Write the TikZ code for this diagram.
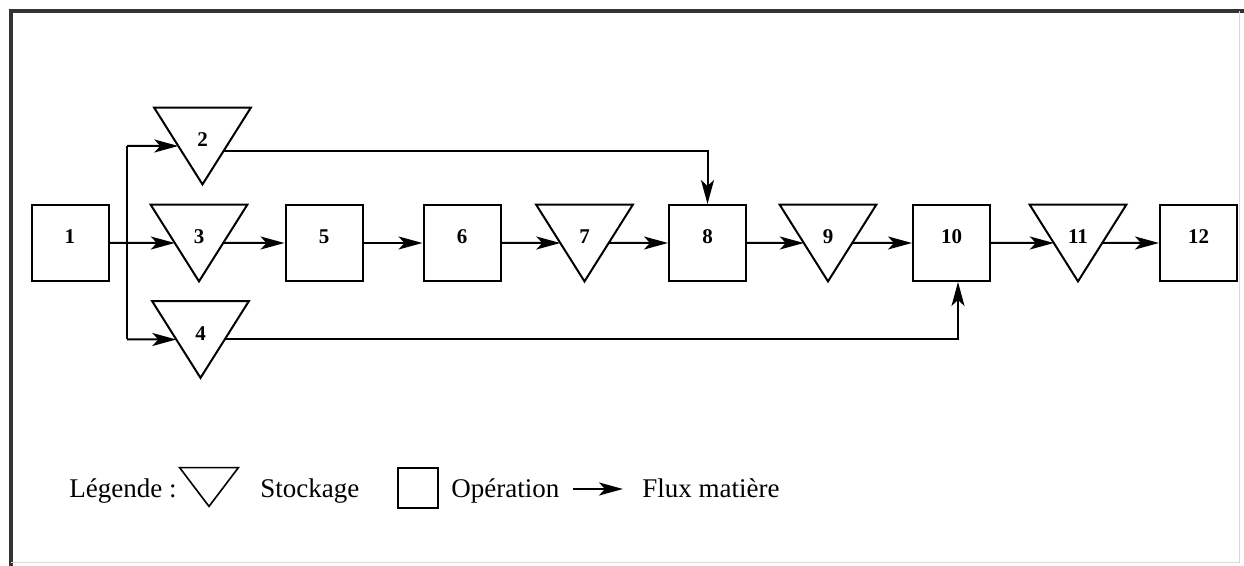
\documentclass[tikz,border=0pt]{standalone}
\usepackage{fontspec}
\setmainfont{Liberation Serif}
\usetikzlibrary{arrows.meta,calc}
\begin{document}
\begin{tikzpicture}[x=0.5pt,y=-0.5pt,
  opbox/.style={draw, line width=1pt, minimum width=38.5pt, minimum height=38pt, inner sep=0pt},
  tri/.style={minimum width=48pt, minimum height=38pt, inner sep=0pt},
  legtri/.style={minimum width=29pt, minimum height=19pt, inner sep=0pt},
  num/.style={font=\fontsize{10.5}{12}\selectfont\bfseries, inner sep=0pt, yshift=3pt},
  wire/.style={line width=1pt},
  flow/.style={line width=1pt, -{Stealth[length=12pt,width=6.5pt,inset=3pt]}},
  legtext/.style={font=\fontsize{13.5}{16}\selectfont, inner sep=0pt, anchor=base west}]
\useasboundingbox (0,0) rectangle (1244,566);
% frame
\draw[line width=2pt, black!80] (11,566) -- (11,11) -- (1244,11);
\draw[line width=0.5pt, black!15] (11,563) -- (1239,563) -- (1239,11);

% main nodes
\node[opbox, label={[num]center:1}] (b1) at (70,243) {};
\node[tri, label={[num]center:2}] (t2) at (202.5,146) {};
\node[tri, label={[num]center:3}] (t3) at (199,243) {};
\node[tri, label={[num]center:4}] (t4) at (200.5,339.5) {};
\node[opbox, label={[num]center:5}] (b5) at (324,243) {};
\node[opbox, label={[num]center:6}] (b6) at (462,243) {};
\node[tri, label={[num]center:7}] (t7) at (584.5,243) {};
\node[opbox, label={[num]center:8}] (b8) at (707.5,243) {};
\node[tri, label={[num]center:9}] (t9) at (828,243) {};
\node[opbox, label={[num]center:10}] (b10) at (951.5,243) {};
\node[tri, label={[num]center:11}] (t11) at (1078,243) {};
\node[opbox, label={[num]center:12}] (b12) at (1198.5,243) {};

\foreach \t in {t2,t3,t4,t7,t9,t11}
  \draw[wire, line join=miter] (\t.north west) -- (\t.north east) -- (\t.south) -- cycle;

% connectors
\coordinate (j2) at (127,146);
\coordinate (j4) at (127,339.5);
\draw[wire] (j2) -- (j4);
\draw[flow] (j2) -- ($(t2.north west)!0.5!(t2.south)$);
\draw[flow] (j4) -- ($(t4.north west)!0.5!(t4.south)$);
\draw[flow] (b1.east) -- ($(t3.north west)!0.5!(t3.south)$);
\draw[flow] ($(t3.north east)!0.5!(t3.south)$) -- (b5.west);
\draw[flow] (b5.east) -- (b6.west);
\draw[flow] (b6.east) -- ($(t7.north west)!0.5!(t7.south)$);
\draw[flow] ($(t7.north east)!0.5!(t7.south)$) -- (b8.west);
\draw[flow] (b8.east) -- ($(t9.north west)!0.5!(t9.south)$);
\draw[flow] ($(t9.north east)!0.5!(t9.south)$) -- (b10.west);
\draw[flow] (b10.east) -- ($(t11.north west)!0.5!(t11.south)$);
\draw[flow] ($(t11.north east)!0.5!(t11.south)$) -- (b12.west);
\draw[flow] ($(t2.north east)!0.57!(t2.south)$) -| (b8.north);
\draw[flow] ($(t4.north east)!0.5!(t4.south)$) -| ([xshift=3.25pt]b10.south);

% legend
\node[legtext] (lg) at (69,498) {Légende :};
\node[legtri] (lt) at (209,487) {};
\draw[line width=0.8pt, line join=miter] (lt.north west) -- (lt.north east) -- (lt.south) -- cycle;
\node[legtext] (ls) at (260,498) {Stockage};
\node[opbox, line width=0.8pt, minimum width=20pt, minimum height=20pt] (lb) at (418,488) {};
\node[legtext] (lo) at (451,498) {Opération};
\coordinate (la1) at (573,489);
\coordinate (la2) at (623,489);
\draw[flow] (la1) -- (la2);
\node[legtext] (lf) at (642,498) {Flux matière};
\end{tikzpicture}
\end{document}
